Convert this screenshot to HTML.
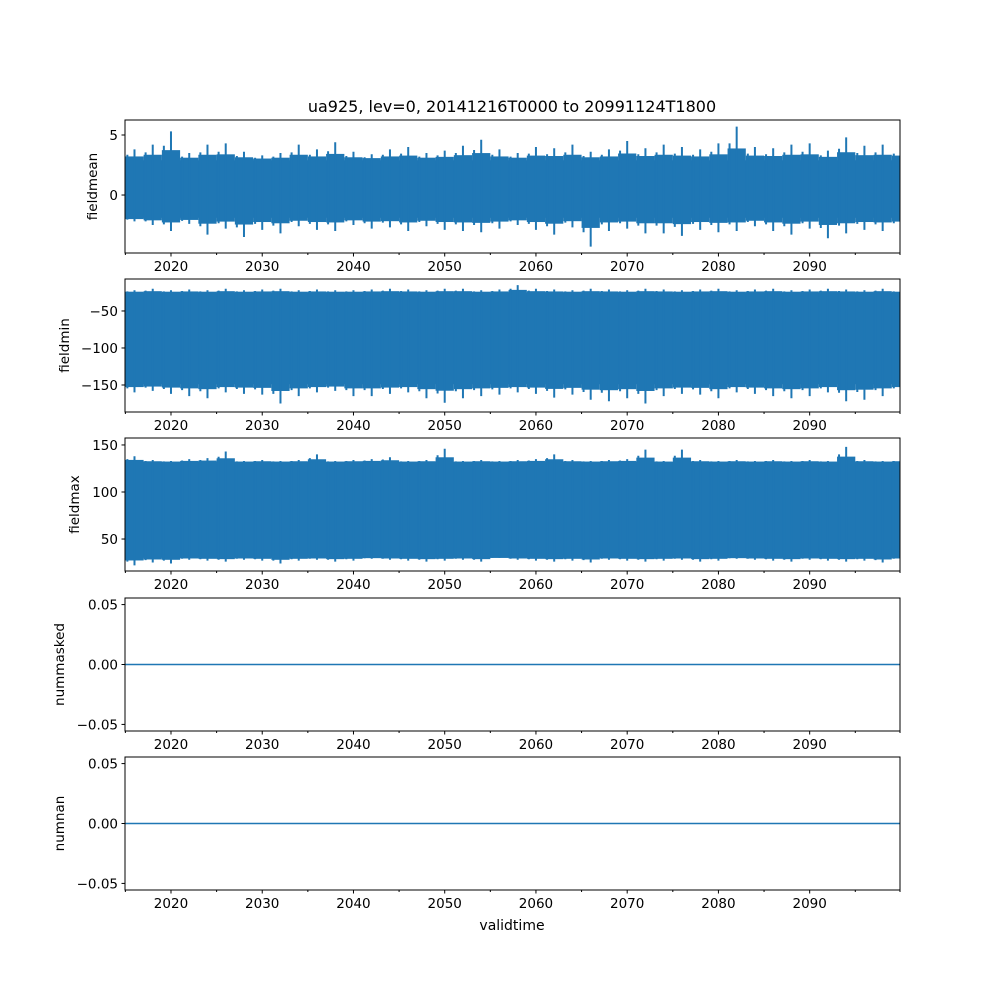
<!DOCTYPE html>
<html><head><meta charset="utf-8"><style>
body{margin:0;background:#fff}
svg text{font-family:"DejaVu Sans","Liberation Sans",sans-serif;fill:#000}
</style></head><body>
<svg id="fig" width="1000" height="1000" viewBox="0 0 1000 1000" xmlns="http://www.w3.org/2000/svg">
<rect width="1000" height="1000" fill="#fff"/>
<text x="512" y="112" font-size="16" text-anchor="middle">ua925, lev=0, 20141216T0000 to 20991124T1800</text>
<text x="512" y="930" font-size="14" text-anchor="middle">validtime</text>
</svg>
<script>
const binStart = [];
for (let y = 2015; y < 2100; y += 2) binStart.push(y);
const meanHi = [3.8,4.2,5.3,3.5,4.2,4.3,3.6,3.3,3.5,4.2,3.8,4.4,3.6,3.4,3.8,4.0,3.5,3.7,4.1,4.6,3.8,3.5,4.0,3.9,4.2,3.6,3.8,4.5,3.9,4.2,4.0,3.8,4.3,5.7,4.0,3.9,4.2,4.3,3.7,4.8,4.1,4.2,4.0];
const meanLo = [-2.2,-2.5,-3.0,-2.4,-3.3,-2.8,-3.5,-2.9,-3.2,-2.6,-2.9,-3.0,-2.5,-2.8,-2.7,-3.0,-2.6,-2.9,-3.0,-3.1,-2.8,-2.5,-2.9,-3.3,-2.7,-4.3,-3.0,-2.8,-3.2,-3.2,-3.4,-2.9,-3.1,-3.0,-2.6,-3.0,-3.3,-2.8,-3.6,-3.2,-2.9,-3.0,-2.8];
const minHi = [-22,-20,-22,-21,-22,-20,-22,-21,-20,-22,-21,-22,-22,-21,-20,-21,-22,-20,-20,-22,-21,-15,-20,-21,-22,-20,-21,-22,-20,-21,-22,-21,-20,-22,-21,-20,-22,-21,-20,-21,-22,-20,-22];
const minLo = [-160,-158,-162,-165,-168,-160,-162,-163,-175,-165,-160,-158,-165,-165,-162,-160,-168,-174,-168,-165,-163,-160,-162,-167,-163,-170,-172,-168,-175,-165,-162,-163,-168,-160,-162,-165,-168,-165,-160,-172,-170,-165,-160];
const maxHi = [138,134,133,135,136,143,133,134,133,134,140,133,134,135,137,133,134,146,133,134,133,134,135,140,134,133,134,135,145,133,145,134,133,134,133,134,133,134,133,148,134,133,134];
const maxLo = [22,25,24,28,27,26,28,27,24,27,28,26,27,29,28,27,26,27,28,26,30,28,27,26,27,25,28,27,26,27,28,26,27,29,28,27,26,28,27,26,27,25,28];
const xTicks = [2020,2030,2040,2050,2060,2070,2080,2090];
const xMinor = [2015,2025,2035,2045,2055,2065,2075,2085,2095,2100];
const panels = [
 {name:'fieldmean', top:120, ymin:-4.83, ymax:6.25, ticks:[5,0], labels:['5','0'], hi:meanHi, lo:meanLo, core:[-1.9,2.9]},
 {name:'fieldmin', top:279, ymin:-186.5, ymax:-6.8, ticks:[-50,-100,-150], labels:['−50','−100','−150'], hi:minHi, lo:minLo, core:[-149,-25]},
 {name:'fieldmax', top:438, ymin:16, ymax:157.4, ticks:[150,100,50], labels:['150','100','50'], hi:maxHi, lo:maxLo, core:[30,132]},
 {name:'nummasked', top:598, ymin:-0.0555, ymax:0.0555, ticks:[0.05,0,-0.05], labels:['0.05','0.00','−0.05'], zero:true},
 {name:'numnan', top:757, ymin:-0.0555, ymax:0.0555, ticks:[0.05,0,-0.05], labels:['0.05','0.00','−0.05'], zero:true}
];
const NS='http://www.w3.org/2000/svg';
const svg=document.getElementById('fig');
const L=125,R=900,H=133,C='#1f77b4';
const x0=2014.96,x1=2099.9;
const xs=v=>L+(v-x0)/(x1-x0)*(R-L);
function mk(t,a,p){const e=document.createElementNS(NS,t);for(const k in a)e.setAttribute(k,a[k]);(p||svg).appendChild(e);return e;}
panels.forEach(p=>{
  const ys=v=>p.top+H-(v-p.ymin)/(p.ymax-p.ymin)*H;
  const g=mk('g',{});
  
  
  const clip='c'+p.name;
  const cp=mk('clipPath',{id:clip},g);mk('rect',{x:L,y:p.top,width:R-L,height:H},cp);
  const s=mk('g',{'clip-path':'url(#'+clip+')'},g);
  
  
  if(p.zero){
    const ln=mk('line',{x1:L,x2:R,y1:ys(0),y2:ys(0),stroke:C,'stroke-width':1.5},s);
    
    
  } else {
    const core=mk('rect',{x:L,width:R-L,y:ys(p.core[1]),height:ys(p.core[0])-ys(p.core[1]),fill:C},s);
    
    
    binStart.forEach((b,i)=>{
      const xa=xs(b),xb=xs(b+2);
      const r=mk('rect',{x:xa,width:xb-xa,y:ys((p.hi[i]*0.35+p.core[1]*0.65)),height:ys((p.lo[i]*0.35+p.core[0]*0.65))-ys((p.hi[i]*0.35+p.core[1]*0.65)),fill:C},s);
      
      
      const sp=mk('line',{x1:(xa+xb)/2,x2:(xa+xb)/2,y1:ys(p.hi[i]),y2:ys(p.lo[i]),stroke:C,'stroke-width':2},s);
      
      
      const sp2=mk('line',{x1:xa+2,x2:xa+2,y1:ys((p.hi[i]+p.core[1])/2),y2:ys((p.lo[i]+p.core[0])/2),stroke:C,'stroke-width':2},s);
      
      
    });
  }
  const fr=mk('rect',{x:L,y:p.top,width:R-L,height:H,fill:'none',stroke:'#000','stroke-width':1},g);
  
  
  p.ticks.forEach((t,i)=>{
    const y=ys(t);
    mk('line',{x1:L-3.5,x2:L,y1:y,y2:y,stroke:'#000'},g);
    const tx=mk('text',{x:L-7,y:y+5,'font-size':13.5,'text-anchor':'end'},g);
    tx.textContent=p.labels[i];
    
    
  });
  const yl=mk('text',{transform:`translate(${p.top<200?97:p.top>550?64:p.top>400?79:69},${p.top+H/2}) rotate(-90)`,'font-size':13.5,'text-anchor':'middle'},g);
  yl.textContent=p.name;
  
  
  const yb=p.top+H;
  xTicks.forEach(t=>{
    mk('line',{x1:xs(t),x2:xs(t),y1:yb,y2:yb+3.5,stroke:'#000'},g);
    const tx=mk('text',{x:xs(t),y:yb+18,'font-size':13.5,'text-anchor':'middle'},g);
    tx.textContent=t;
    
    
  });
  xMinor.forEach(t=>{const xx=Math.min(R,xs(t));mk('line',{x1:xx,x2:xx,y1:yb,y2:yb+2,stroke:'#000'},g);});
});
</script>
</body></html>
